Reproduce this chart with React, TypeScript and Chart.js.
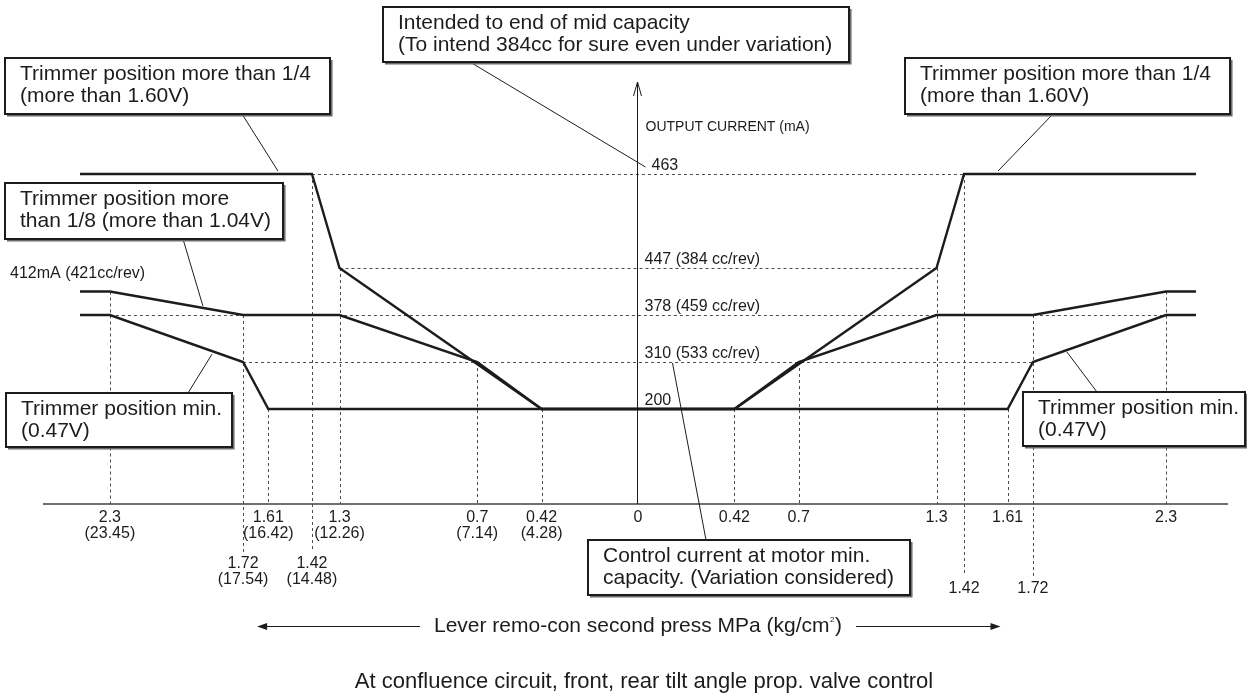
import React, { useEffect, useRef } from 'react';
import { Chart, LinearScale, registerables } from 'chart.js';

const FONT = '"Liberation Sans", Arial, Helvetica, sans-serif';
const INK = '#1c1c1c';

// ---- data: x = lever remo-con second press (MPa, left side negative), y = output current (mA)
const maxTrimX = [-2.43, -1.42, -1.3, -0.42, 0.42, 1.3, 1.42, 2.43];
const maxTrimY = [463, 463, 447, 200, 200, 447, 463, 463];
const eighthTrimX = [-2.43, -2.3, -1.72, -1.3, -0.7, -0.42, 0.42, 0.7, 1.3, 1.72, 2.3, 2.43];
const eighthTrimY = [412, 412, 378, 378, 310, 200, 200, 310, 378, 378, 412, 412];
const minTrimX = [-2.43, -2.3, -1.72, -1.61, 1.61, 1.72, 2.3, 2.43];
const minTrimY = [378, 378, 310, 200, 200, 310, 378, 378];

// schematic (non-proportional) current axis
const currentLevels = [200, 310, 378, 412, 447, 463];
const levelSteps = [0, 1, 2, 2.5, 3, 5];

// tick labels of the pressure axis
const tickValues = [-2.3, -1.72, -1.61, -1.42, -1.3, -0.7, -0.42, 0, 0.42, 0.7, 1.3, 1.42, 1.61, 1.72, 2.3];
const tickLabels = ['2.3', '1.72', '1.61', '1.42', '1.3', '0.7', '0.42', '0', '0.42', '0.7', '1.3', '1.42', '1.61', '1.72', '2.3'];
const tickKgLabels = ['(23.45)', '(17.54)', '(16.42)', '(14.48)', '(12.26)', '(7.14)', '(4.28)', '', '', '', '', '', '', '', ''];
const tickRows = [0, 1, 0, 1, 0, 0, 0, 0, 0, 0, 0, 2, 0, 2, 0];

// dashed reference lines
const guideX = [-2.3, -1.72, -1.61, -1.42, -1.3, -0.7, -0.42, 0.42, 0.7, 1.3, 1.42, 1.61, 1.72, 2.3];
const guideTop = [412, 378, 200, 463, 447, 310, 200, 200, 310, 447, 463, 200, 378, 412];
const hGuideValues = [463, 447, 378, 310];
const hGuideHalfWidth = [1.42, 1.3, 2.3, 1.72];

// current level labels
const levelLabelValues = [463, 447, 378, 310, 200];
const levelLabelTexts = ['463', '447 (384 cc/rev)', '378 (459 cc/rev)', '310 (533 cc/rev)', '200'];

class LevelScale extends LinearScale {
  static id = 'level';
  toLevel(v: number): number {
    const o: any = this.options;
    const vals: number[] = o.levelValues;
    const steps: number[] = o.levelSteps;
    let i = 1;
    while (i < vals.length - 1 && v > vals[i]) i++;
    const t = (v - vals[i - 1]) / (vals[i] - vals[i - 1]);
    return steps[i - 1] + t * (steps[i] - steps[i - 1]);
  }
  fromLevel(l: number): number {
    const o: any = this.options;
    const vals: number[] = o.levelValues;
    const steps: number[] = o.levelSteps;
    let i = 1;
    while (i < steps.length - 1 && l > steps[i]) i++;
    const t = (l - steps[i - 1]) / (steps[i] - steps[i - 1]);
    return vals[i - 1] + t * (vals[i] - vals[i - 1]);
  }
  getPixelForValue(value: number): number {
    const o: any = this.options;
    return this.getPixelForDecimal((this.toLevel(value) - o.levelMin) / (o.levelMax - o.levelMin));
  }
  getValueForPixel(pixel: number): number {
    const o: any = this.options;
    return this.fromLevel(o.levelMin + this.getDecimalForPixel(pixel) * (o.levelMax - o.levelMin));
  }
}

Chart.register(...registerables, LevelScale as any);

function interp(xs: number[], ys: number[], x: number): number {
  for (let i = 1; i < xs.length; i++) {
    if (x <= xs[i]) {
      const t = (x - xs[i - 1]) / (xs[i] - xs[i - 1]);
      return ys[i - 1] + t * (ys[i] - ys[i - 1]);
    }
  }
  return ys[ys.length - 1];
}

type Box = { x: number; y: number; w: number; h: number; lines: string[] };
const boxes: Box[] = [
  { x: 5, y: 58, w: 325, h: 56, lines: ['Trimmer position more than 1/4', '(more than 1.60V)'] },
  { x: 383, y: 7, w: 466, h: 55, lines: ['Intended to end of mid capacity', '(To intend 384cc for sure even under variation)'] },
  { x: 905, y: 58, w: 325, h: 56, lines: ['Trimmer position more than 1/4', '(more than 1.60V)'] },
  { x: 5, y: 183, w: 278, h: 56, lines: ['Trimmer position more', 'than 1/8 (more than 1.04V)'] },
  { x: 6, y: 393, w: 226, h: 54, lines: ['Trimmer position min.', '(0.47V)'] },
  { x: 1023, y: 392, w: 222, h: 54, lines: ['Trimmer position min.', '(0.47V)'] },
  { x: 588, y: 540, w: 322, h: 55, lines: ['Control current at motor min.', 'capacity. (Variation considered)'] },
];

function drawGuides(chart: any) {
  const ctx: CanvasRenderingContext2D = chart.ctx;
  const xs = chart.scales.x;
  const ys = chart.scales.y;
  const axisY = chart.chartArea.bottom + 1;
  ctx.save();
  ctx.strokeStyle = '#4d4d4d';
  ctx.lineWidth = 1;
  ctx.setLineDash([3, 3]);
  hGuideValues.forEach((v, i) => {
    const y = Math.round(ys.getPixelForValue(v)) + 0.5;
    ctx.beginPath();
    ctx.moveTo(xs.getPixelForValue(-hGuideHalfWidth[i]), y);
    ctx.lineTo(xs.getPixelForValue(hGuideHalfWidth[i]), y);
    ctx.stroke();
  });
  guideX.forEach((v, i) => {
    const x = Math.round(xs.getPixelForValue(v)) + 0.5;
    const row = tickRows[tickValues.indexOf(v)];
    const bottom = row === 1 ? axisY + 48 : row === 2 ? axisY + 72 : axisY;
    ctx.beginPath();
    ctx.moveTo(x, ys.getPixelForValue(guideTop[i]));
    ctx.lineTo(x, bottom);
    ctx.stroke();
  });
  ctx.restore();
}

function drawBox(ctx: CanvasRenderingContext2D, b: Box) {
  ctx.save();
  ctx.fillStyle = '#ffffff';
  ctx.fillRect(b.x, b.y, b.w, b.h);
  ctx.strokeStyle = '#6a6a6a';
  ctx.lineWidth = 1.5;
  ctx.beginPath();
  ctx.moveTo(b.x + 2, b.y + b.h + 1.8);
  ctx.lineTo(b.x + b.w + 1.8, b.y + b.h + 1.8);
  ctx.lineTo(b.x + b.w + 1.8, b.y + 2);
  ctx.stroke();
  ctx.strokeStyle = INK;
  ctx.lineWidth = 2;
  ctx.strokeRect(b.x, b.y, b.w, b.h);
  ctx.fillStyle = INK;
  ctx.font = `21px ${FONT}`;
  ctx.textAlign = 'left';
  ctx.textBaseline = 'middle';
  b.lines.forEach((t, i) => ctx.fillText(t, b.x + 15, b.y + 16 + i * 22));
  ctx.restore();
}

function line(ctx: CanvasRenderingContext2D, x1: number, y1: number, x2: number, y2: number) {
  ctx.beginPath();
  ctx.moveTo(x1, y1);
  ctx.lineTo(x2, y2);
  ctx.stroke();
}

function drawOverlay(chart: any) {
  const ctx: CanvasRenderingContext2D = chart.ctx;
  const xs = chart.scales.x;
  const ys = chart.scales.y;
  const px = (v: number) => xs.getPixelForValue(v);
  const py = (v: number) => ys.getPixelForValue(v);
  const axisY = Math.round(chart.chartArea.bottom) + 1;
  const x0 = Math.round(px(0)) - 0.5;

  ctx.save();
  // x axis
  ctx.strokeStyle = '#404040';
  ctx.lineWidth = 1.6;
  line(ctx, px(-2.6) + 2, axisY, px(2.57), axisY);
  // y axis with open arrow
  ctx.strokeStyle = INK;
  ctx.lineWidth = 1;
  line(ctx, x0, axisY, x0, 82);
  line(ctx, x0, 82, x0 - 4, 96);
  line(ctx, x0, 82, x0 + 4, 96);

  // tick labels
  ctx.fillStyle = INK;
  ctx.font = `16px ${FONT}`;
  ctx.textAlign = 'center';
  ctx.textBaseline = 'middle';
  tickValues.forEach((v, i) => {
    const x = px(v);
    const row = tickRows[i];
    const top = row === 0 ? axisY + 14 : row === 1 ? axisY + 60 : axisY + 85;
    ctx.fillText(tickLabels[i], x, top);
    if (tickKgLabels[i]) ctx.fillText(tickKgLabels[i], x, top + 16);
  });

  // current level labels
  ctx.textAlign = 'left';
  ctx.textBaseline = 'alphabetic';
  levelLabelValues.forEach((v, i) => {
    ctx.fillText(levelLabelTexts[i], x0 + (v === 463 ? 14 : 7), Math.round(py(v)) - 4);
  });
  ctx.textBaseline = 'middle';
  ctx.fillText('412mA (421cc/rev)', 10, py(412) - 18);
  ctx.font = `14px ${FONT}`;
  ctx.fillText('OUTPUT CURRENT (mA)', x0 + 8, 127);

  // leader lines
  ctx.strokeStyle = INK;
  ctx.lineWidth = 1;
  line(ctx, 242, 114, px(-1.568), py(463) - 3);
  line(ctx, 1053, 114, px(1.568), py(463) - 3);
  line(ctx, 470, 62, x0 + 8, py(463) - 7);
  line(ctx, 183, 239, px(-1.895), py(interp(eighthTrimX, eighthTrimY, -1.895)) - 2);
  line(ctx, 188, 393, px(-1.855), py(interp(minTrimX, minTrimY, -1.855)) + 3);
  line(ctx, 1097, 392, px(1.868), py(interp(minTrimX, minTrimY, 1.868)) + 2);
  line(ctx, x0 + 35, py(310) + 1, 706, 540);

  boxes.forEach((b) => drawBox(ctx, b));

  // pressure axis caption with arrows
  const capY = 626;
  ctx.font = `21px ${FONT}`;
  ctx.textBaseline = 'middle';
  ctx.textAlign = 'left';
  const main = 'Lever remo-con second press MPa (kg/cm';
  const wMain = ctx.measureText(main).width;
  const wClose = ctx.measureText(')').width;
  ctx.font = `8px ${FONT}`;
  const wSup = ctx.measureText('2').width + 1;
  const total = wMain + wSup + wClose;
  const startX = px(0) - total / 2;
  ctx.font = `21px ${FONT}`;
  ctx.fillText(main, startX, capY);
  ctx.fillText(')', startX + wMain + wSup, capY);
  ctx.font = `8px ${FONT}`;
  ctx.fillText('2', startX + wMain + 0.5, capY - 6);
  const endX = startX + total;
  const leftTip = px(-1.65);
  const rightTip = px(1.57);
  ctx.lineWidth = 1;
  line(ctx, startX - 14, capY + 0.5, leftTip, capY + 0.5);
  line(ctx, endX + 14, capY + 0.5, rightTip, capY + 0.5);
  ctx.beginPath();
  ctx.moveTo(leftTip - 2, capY + 0.5);
  ctx.lineTo(leftTip + 8, capY - 3);
  ctx.lineTo(leftTip + 8, capY + 4);
  ctx.closePath();
  ctx.fill();
  ctx.beginPath();
  ctx.moveTo(rightTip + 2, capY + 0.5);
  ctx.lineTo(rightTip - 8, capY - 3);
  ctx.lineTo(rightTip - 8, capY + 4);
  ctx.closePath();
  ctx.fill();

  // title
  ctx.font = `22px ${FONT}`;
  ctx.textAlign = 'center';
  ctx.fillText('At confluence circuit, front, rear tilt angle prop. valve control', px(0) + 6, 682);
  ctx.restore();
}

const diagramPlugin = {
  id: 'diagram',
  beforeDatasetsDraw(chart: any) {
    drawGuides(chart);
  },
  afterDatasetsDraw(chart: any) {
    drawOverlay(chart);
  },
};

function series(xs: number[], ys: number[]) {
  return {
    data: xs.map((x, i) => ({ x, y: ys[i] })),
    borderColor: INK,
    borderWidth: 2.4,
    pointRadius: 0,
    tension: 0,
    fill: false,
    clip: false as any,
    borderJoinStyle: 'miter' as const,
  };
}

export default function App() {
  const ref = useRef<HTMLCanvasElement>(null);
  useEffect(() => {
    if (!ref.current) return;
    const chart = new Chart(ref.current, {
      type: 'line',
      data: {
        datasets: [
          series(maxTrimX, maxTrimY),
          series(eighthTrimX, eighthTrimY),
          series(minTrimX, minTrimY),
        ] as any,
      },
      options: {
        responsive: false,
        animation: false,
        devicePixelRatio: 1,
        events: [],
        layout: { padding: { left: 41, right: 12, top: 127, bottom: 190 } },
        plugins: { legend: { display: false }, tooltip: { enabled: false } },
        scales: {
          x: { type: 'linear', min: -2.6, max: 2.6, display: false },
          y: {
            type: 'level',
            display: false,
            levelValues: currentLevels,
            levelSteps: levelSteps,
            levelMin: -2,
            levelMax: 6,
          } as any,
        },
      },
      plugins: [diagramPlugin],
    });
    return () => chart.destroy();
  }, []);
  return (
    <div style={{ position: 'absolute', left: 0, top: 0, width: 1247, height: 693, background: '#fff' }}>
      <canvas ref={ref} width={1247} height={693} style={{ display: 'block', width: 1247, height: 693 }} />
    </div>
  );
}
